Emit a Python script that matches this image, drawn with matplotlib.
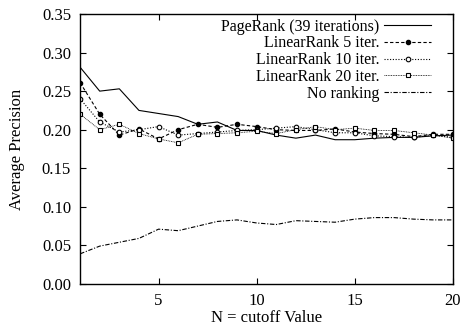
import matplotlib
matplotlib.use("Agg")
import matplotlib.pyplot as plt

plt.rcParams['font.family'] = ['Liberation Serif', 'DejaVu Serif']

# cutoff values
N = list(range(1, 21))

pagerank = [0.281, 0.250, 0.253, 0.225, 0.221, 0.217, 0.207, 0.210, 0.199, 0.199,
            0.193, 0.189, 0.193, 0.187, 0.187, 0.189, 0.190, 0.190, 0.192, 0.193]
linear5 = [0.261, 0.220, 0.193, 0.201, 0.188, 0.200, 0.207, 0.203, 0.207, 0.204,
           0.200, 0.199, 0.199, 0.201, 0.197, 0.195, 0.194, 0.191, 0.194, 0.194]
linear10 = [0.240, 0.210, 0.197, 0.200, 0.204, 0.193, 0.195, 0.197, 0.199, 0.200,
            0.202, 0.204, 0.200, 0.196, 0.196, 0.192, 0.191, 0.190, 0.193, 0.190]
linear20 = [0.220, 0.200, 0.207, 0.195, 0.188, 0.183, 0.194, 0.195, 0.196, 0.198,
            0.195, 0.200, 0.204, 0.200, 0.202, 0.199, 0.199, 0.196, 0.193, 0.189]
noranking = [0.039, 0.049, 0.054, 0.059, 0.071, 0.069, 0.075, 0.081, 0.083, 0.079,
             0.077, 0.082, 0.081, 0.080, 0.084, 0.086, 0.086, 0.084, 0.083, 0.083]

fig = plt.figure(figsize=(4.63, 3.34), dpi=100)
ax = fig.add_axes([0.173, 0.150, 0.805, 0.808])

lw = 0.8
ax.plot(N, pagerank, color='black', lw=lw, ls='-', label='PageRank (39 iterations)')
ax.plot(N, linear5, color='black', lw=lw, ls=(0, (3, 2)), marker='o', ms=3,
        mfc='black', label='LinearRank 5 iter.')
ax.plot(N, linear10, color='black', lw=lw, ls=(0, (1, 1.5)), marker='o', ms=3.3,
        mfc='white', mew=0.8, label='LinearRank 10 iter.')
ax.plot(N, linear20, color='black', lw=0.6, ls=(0, (1, 1)), marker='s', ms=3.3,
        mfc='white', mew=0.8, label='LinearRank 20 iter.')
ax.plot(N, noranking, color='black', lw=lw, ls=(0, (4, 1.5, 1, 1.5)), label='No ranking')

ax.set_xlim(1, 20)
ax.set_ylim(0, 0.35)
ax.set_xticks([5, 10, 15, 20])
ax.set_yticks([0.00, 0.05, 0.10, 0.15, 0.20, 0.25, 0.30, 0.35])
ax.set_yticklabels(['%.2f' % v for v in ax.get_yticks()])
ax.tick_params(direction='in', top=True, right=True, labelsize=12, length=4,
               width=0.8, pad=6.5)
for s in ax.spines.values():
    s.set_linewidth(1.0)

ax.set_xlabel('N = cutoff Value', fontsize=12, labelpad=1)
ax.set_ylabel('Average Precision', fontsize=12, labelpad=12)

ax.legend(loc='upper right', bbox_to_anchor=(0.947, 0.989), frameon=False,
          markerfirst=False, fontsize=11.5, handlelength=3.0, labelspacing=0.05,
          borderaxespad=0, borderpad=0.1, handletextpad=0.25)

fig.savefig('out.png', dpi=100)
